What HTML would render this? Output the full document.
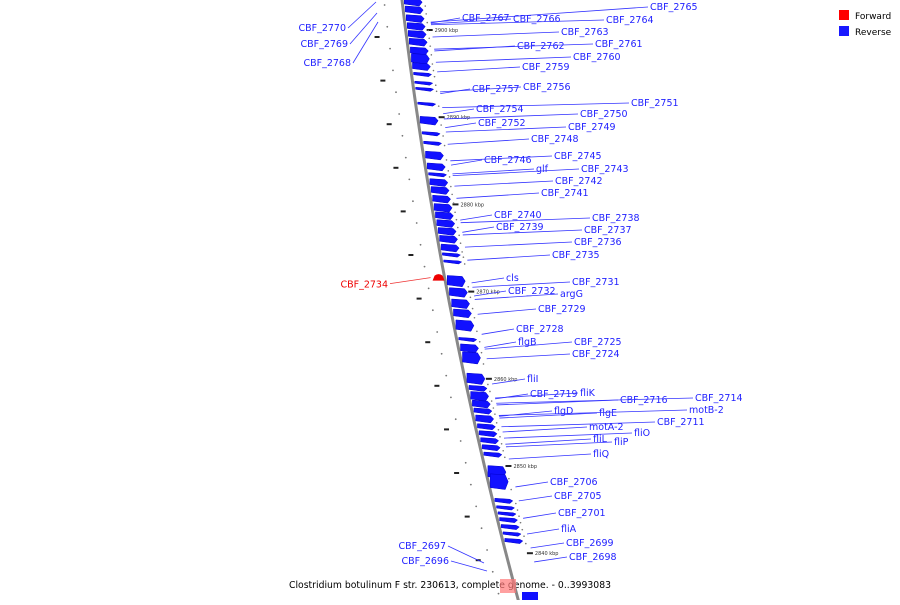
<!DOCTYPE html>
<html><head><meta charset="utf-8"><style>
body{margin:0;background:#fff;width:900px;height:600px;overflow:hidden}
text{font-family:"DejaVu Sans","Liberation Sans",sans-serif}
</style></head><body>
<svg id="map" width="900" height="600" viewBox="0 0 900 600" xmlns="http://www.w3.org/2000/svg">
<g id="legend">
<rect x="839" y="10" width="10" height="10" fill="#f00"/>
<text x="855" y="19" font-size="9">Forward</text>
<rect x="839" y="26" width="10" height="10" fill="#00f" opacity="0.9"/>
<text x="855" y="35" font-size="9">Reverse</text>
</g>
<text x="289" y="588" font-size="9.5" textLength="322" lengthAdjust="spacingAndGlyphs">Clostridium botulinum F str. 230613, complete genome. - 0..3993083</text>
</svg>
<script>
const NS="http://www.w3.org/2000/svg";
const svg=document.getElementById('map');
// axis ticks (kbp)
const tickKbp=[2900,2890,2880,2870,2860,2850,2840];
// reverse gene block positions (kbp, centre) and size (kbp)
const blockKbp=[2903.2,2902.3,2901.3,2900.4,2899.5,2898.6,2897.6,2896.7,2895.8,2894.9,2893.9,2893.2,2891.5,2889.6,2888.1,2887.0,2885.6,2884.3,2883.4,2882.5,2881.6,2880.6,2879.6,2878.7,2877.8,2876.9,2876.0,2875.0,2874.2,2873.4,2871.2,2869.9,2868.6,2867.5,2866.1,2864.5,2863.5,2862.4,2860.0,2858.9,2858.0,2857.1,2856.3,2855.4,2854.5,2853.7,2852.9,2852.1,2851.3,2849.3,2848.2,2846.0,2845.2,2844.5,2843.8,2843.0,2842.2,2841.4];
const blockLen=[0.9,0.9,0.9,0.9,0.9,0.9,0.9,1.2,0.9,0.5,0.3,0.3,0.3,1.0,0.5,0.5,1.0,0.9,0.5,0.9,0.9,0.9,1.0,0.9,0.9,0.9,0.9,0.9,0.5,0.3,1.3,1.1,1.1,1.0,1.3,0.5,1.0,1.4,1.3,0.7,1.1,0.9,0.7,0.9,0.7,0.7,0.7,0.7,0.6,1.5,1.8,0.6,0.5,0.5,0.6,0.6,0.5,0.6];
// labels: name, label x, label y, gene kbp
const labNames=["CBF_2765","CBF_2767","CBF_2766","CBF_2764","CBF_2763","CBF_2762","CBF_2761","CBF_2760","CBF_2759","CBF_2757","CBF_2756","CBF_2751","CBF_2754","CBF_2750","CBF_2752","CBF_2749","CBF_2748","CBF_2745","CBF_2746","glf","CBF_2743","CBF_2742","CBF_2741","CBF_2740","CBF_2738","CBF_2739","CBF_2737","CBF_2736","CBF_2735","cls","CBF_2731","CBF_2732","argG","CBF_2729","CBF_2728","flgB","CBF_2725","CBF_2724","fliI","CBF_2719","fliK","CBF_2716","CBF_2714","flgD","flgE","motB-2","CBF_2711","motA-2","fliO","fliL","fliP","fliQ","CBF_2706","CBF_2705","CBF_2701","fliA","CBF_2699","CBF_2698"];
const labX=[650,462,513,606,561,517,595,573,522,472,523,631,476,580,478,568,531,554,484,536,581,555,541,494,592,496,584,574,552,506,572,508,560,538,516,518,574,572,527,530,580,620,695,554,599,689,657,589,634,593,614,593,550,554,558,561,566,569];
const labY=[6,17,18,19,31,45,43,56,66,88,86,102,108,113,122,126,138,155,159,168,168,180,192,214,217,226,229,241,254,277,281,290,293,308,328,341,341,353,378,393,392,399,397,410,412,409,421,426,432,438,441,453,481,495,512,528,542,556];
const labKbp=[2900.9,2900.8,2900.7,2900.6,2899.2,2897.6,2897.8,2896.3,2895.2,2892.7,2892.9,2891.1,2890.4,2889.8,2888.8,2888.3,2886.9,2885.0,2884.5,2883.5,2883.3,2882.1,2880.7,2878.2,2877.9,2876.8,2876.5,2875.1,2873.6,2871.0,2870.5,2869.5,2869.1,2867.4,2865.1,2863.6,2863.4,2862.3,2859.4,2857.7,2857.8,2857.0,2857.2,2855.7,2855.5,2855.8,2854.5,2853.9,2853.2,2852.5,2852.2,2850.8,2847.6,2846.0,2844.0,2842.2,2840.6,2839.0];
// left-side labels
const leftNames=["CBF_2770","CBF_2769","CBF_2768","CBF_2697","CBF_2696"];
const leftX=[346,348,351,446,449];
const leftY=[27,43,62,545,560];
const leftTo=[[376,2],[377,13],[378,22],[484,563],[487,571]];
const fwdName=["CBF_2734"], fwdKbp=[2871.6];

function yOf(k){return 30+(2900-k)*8.72;}
function axX(y){return 402+0.1187*y+0.000125*y*y;}
function el(tag,attrs,name,inter){const e=document.createElementNS(NS,tag);for(const a in attrs)e.setAttribute(a,attrs[a]);
  
  svg.appendChild(e);return e;}
let pts=[];for(let y=-5;y<=605;y+=10)pts.push(axX(y).toFixed(1)+','+y);
el('polyline',{points:pts.join(' '),fill:'none',stroke:'#888',"stroke-width":3},'genome-backbone',false);
for(let y=5;y<600;y+=21.8){
  el('circle',{cx:axX(y)-18,cy:y,r:0.9,fill:'#777'},'minor-tick-dot',false);
}
for(let i=0;i<14;i++){const y=37+i*43.6;
  el('rect',{x:axX(y)-32,y:y-1,width:5,height:2,fill:'#222'},'major-tick-mark',false);}
tickKbp.forEach((k,i)=>{const y=yOf(k);const x=axX(y);
  el('rect',{x:x+21,y:y-1,width:6,height:2,fill:'#222'},'axis-tick',false);
  const t=el('text',{x:x+29,y:y+2,"font-size":5,fill:'#333'},'axis-tick-label',false);t.textContent=k+' kbp';});
blockKbp.forEach((k,i)=>{const yc=yOf(k),h=Math.max(4,blockLen[i]*8.72);const y0=yc-h/2,x=axX(yc)+2,w=15;
  const p=`${x},${y0} ${x+w},${y0+1} ${x+w+3},${y0+h*0.5} ${x+w},${y0+h} ${x},${y0+h-2}`;
  el('polygon',{points:p,fill:'#11f',stroke:'#00c',"stroke-width":0.5},'reverse-gene-'+i,true);
  el('circle',{cx:axX(yc)+23,cy:yc+h/2,r:0.8,fill:'#777'},'gene-end-dot',false);});
labNames.forEach((n,i)=>{const gy=yOf(labKbp[i]);const gx=axX(gy)+26;
  el('line',{x1:gx,y1:gy,x2:labX[i]-2,y2:labY[i]+1,stroke:'#33f',"stroke-width":0.8},'leader-'+n,false);
  const t=el('text',{x:labX[i],y:labY[i]+4,"font-size":9.5,fill:'#22f'},'label-'+n,true);t.textContent=n;});
leftNames.forEach((n,i)=>{
  el('line',{x1:leftX[i]+2,y1:leftY[i]+1,x2:leftTo[i][0],y2:leftTo[i][1],stroke:'#33f',"stroke-width":0.8},'leader-'+n,false);
  const t=el('text',{x:leftX[i],y:leftY[i]+4,"font-size":9.5,fill:'#22f',"text-anchor":'end'},'label-'+n,true);t.textContent=n;});
fwdName.forEach((n,i)=>{const gy=yOf(fwdKbp[i]);const gx=axX(gy);
  el('path',{d:`M${gx-12},${gy+3} L${gx-10},${gy-2} Q${gx-6},${gy-5} ${gx-2},${gy-2} L${gx},${gy+3} Z`,fill:'#e00'},'forward-gene-'+n,true);
  el('line',{x1:gx-14,y1:gy,x2:390,y2:gy+6,stroke:'#e33',"stroke-width":0.8},'leader-'+n,false);
  const t=el('text',{x:388,y:gy+10,"font-size":9.5,fill:'#e00',"text-anchor":'end'},'label-'+n,true);t.textContent=n;});
el('rect',{x:500,y:579,width:16,height:14,fill:'#f77',opacity:0.7},'selection-marker',false);
el('rect',{x:522,y:592,width:16,height:8,fill:'#11f'},'reverse-gene-bottom',true);
</script>
</body></html>
